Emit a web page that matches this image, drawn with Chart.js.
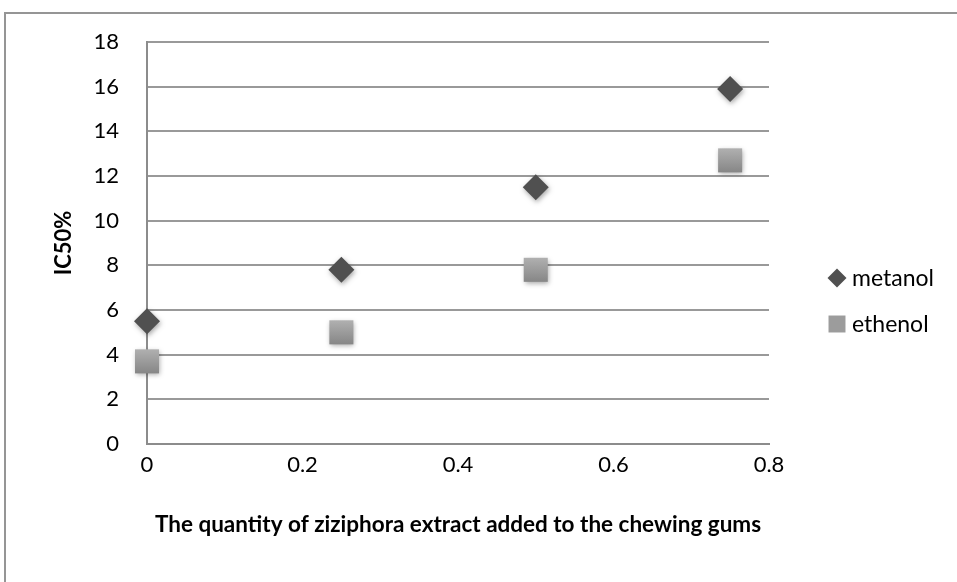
<!DOCTYPE html>
<html>
<head>
<meta charset="utf-8">
<script src="https://cdn.jsdelivr.net/npm/chart.js@4.4.0/dist/chart.umd.min.js"></script>
<style>
  html, body { margin: 0; padding: 0; background: #fff; }
  #wrap { width: 957px; height: 582px; position: relative; }
</style>
</head>
<body>
<div id="wrap"><canvas id="c"></canvas></div>
<script>
// data
const xValues = [0, 0.25, 0.5, 0.75];
const metanol = [5.5, 7.8, 11.5, 15.9];
const ethenol = [3.7, 5.0, 7.8, 12.7];
const seriesNames = ['metanol', 'ethenol'];
const xTitle = 'The quantity of ziziphora extract added to the chewing gums';
const yTitle = 'IC50%';

const FONT = 'Lato, "Open Sans", sans-serif';

// grey frame around the chart (only top and left edge are visible)
const framePlugin = {
  id: 'frame',
  beforeDraw(chart) {
    const ctx = chart.ctx;
    ctx.save();
    ctx.strokeStyle = '#959595';
    ctx.lineWidth = 2;
    ctx.beginPath();
    ctx.moveTo(5, chart.height);
    ctx.lineTo(5, 13);
    ctx.lineTo(chart.width, 13);
    ctx.stroke();
    ctx.restore();
  }
};

// soft shadow under the markers
const shadowPlugin = {
  id: 'shadow',
  beforeDatasetsDraw(chart) {
    const ctx = chart.ctx;
    ctx.save();
    ctx.shadowColor = 'rgba(0,0,0,0.35)';
    ctx.shadowBlur = 5;
    ctx.shadowOffsetX = 1;
    ctx.shadowOffsetY = 2;
  },
  afterDatasetsDraw(chart) {
    chart.ctx.restore();
  }
};

// grey square with a light-to-dark vertical gradient
function squareFill(c) {
  const scale = c.chart.scales.y;
  if (!c.parsed || !scale) return '#9c9c9c';
  const y = scale.getPixelForValue(c.parsed.y);
  if (!isFinite(y)) return '#9c9c9c';
  const g = c.chart.ctx.createLinearGradient(0, y - 12, 0, y + 12);
  g.addColorStop(0, '#b0b0b0');
  g.addColorStop(1, '#868686');
  return g;
}

// legend on the right, drawn with the library's point helper
const legendPlugin = {
  id: 'sideLegend',
  afterDraw(chart) {
    const ctx = chart.ctx;
    const x0 = 837, y0 = 278, gap = 46;
    ctx.save();
    chart.data.datasets.forEach((ds, i) => {
      const y = y0 + i * gap;
      ctx.fillStyle = ds.legendColor;
      Chart.helpers.drawPoint(ctx, {
        pointStyle: ds.pointStyle,
        radius: ds.legendRadius,
        borderWidth: 0,
        rotation: 0
      }, x0, y);
      ctx.fillStyle = '#000';
      ctx.font = '23px ' + FONT;
      ctx.textBaseline = 'middle';
      ctx.textAlign = 'left';
      ctx.fillText(ds.label, x0 + 15, y + 1);
    });
    ctx.restore();
  }
};

new Chart(document.getElementById('c'), {
  type: 'scatter',
  data: {
    datasets: [
      {
        label: seriesNames[0],
        data: xValues.map((x, i) => ({ x: x, y: metanol[i] })),
        pointStyle: 'rectRot',
        pointRadius: 13,
        legendRadius: 9.5,
        legendColor: '#505050',
        backgroundColor: '#505050',
        borderWidth: 0,
        clip: false
      },
      {
        label: seriesNames[1],
        data: xValues.map((x, i) => ({ x: x, y: ethenol[i] })),
        pointStyle: 'rect',
        pointRadius: 17,
        legendRadius: 12,
        legendColor: '#9c9c9c',
        backgroundColor: squareFill,
        borderWidth: 0,
        clip: false
      }
    ]
  },
  options: {
    responsive: true,
    maintainAspectRatio: false,
    animation: false,
    layout: { padding: { left: 47, top: 42, right: 188, bottom: 40 } },
    plugins: {
      legend: { display: false },
      tooltip: { enabled: false }
    },
    scales: {
      x: {
        type: 'linear',
        min: 0,
        max: 0.8,
        ticks: {
          stepSize: 0.2,
          padding: 8,
          color: '#000',
          font: { family: FONT, size: 22 }
        },
        grid: { display: false, drawTicks: false },
        border: { display: true, color: '#8c8c8c', width: 2 },
        title: {
          display: true,
          text: xTitle,
          color: '#000',
          font: { family: FONT, size: 22.5, weight: 'bold' },
          padding: { top: 20, bottom: 4 }
        },
        afterFit(scale) { scale.height = 98; }
      },
      y: {
        min: 0,
        max: 18,
        ticks: {
          stepSize: 2,
          padding: 28,
          color: '#000',
          font: { family: FONT, size: 22 }
        },
        grid: { color: '#999999', lineWidth: 2, drawTicks: false },
        border: { display: true, color: '#8c8c8c', width: 2 },
        title: {
          display: true,
          text: yTitle,
          color: '#000',
          font: { family: FONT, size: 22, weight: 'bold' },
          padding: { top: 4, bottom: 4 }
        },
        afterFit(scale) { scale.width = 100; }
      }
    }
  },
  plugins: [framePlugin, shadowPlugin, legendPlugin]
});
</script>
</body>
</html>
